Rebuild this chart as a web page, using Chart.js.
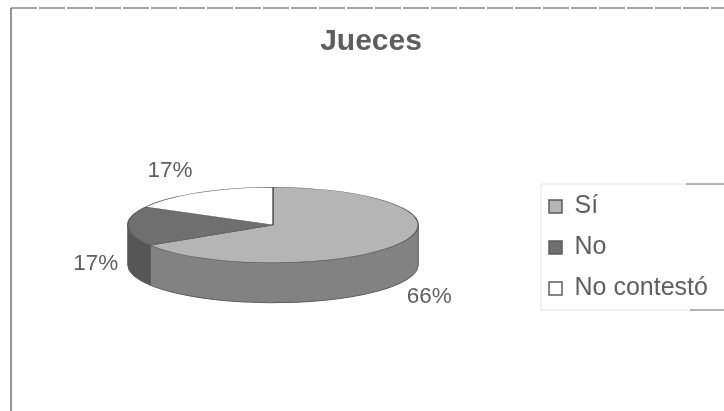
<!DOCTYPE html>
<html>
<head>
<meta charset="utf-8">
<title>Jueces</title>
<style>
  html, body { margin: 0; padding: 0; background: #ffffff; }
  canvas { display: block; }
</style>
<script src="https://cdn.jsdelivr.net/npm/chart.js@4/dist/chart.umd.min.js"></script>
</head>
<body>
<canvas id="chart" width="724" height="411"></canvas>
<script>
const categories = ['Sí', 'No', 'No contestó'];
const shares = [66, 17, 17];
const topColors = ['#b5b5b5', '#6f6f6f', '#ffffff'];
const sideColors = ['#828282', '#565656', '#d0d0d0'];
const chartTitle = 'Jueces';

const TILT = 0.26;      // vertical squash of the disc
const DEPTH = 40;       // height of the rim in pixels
const OUTLINE = '#5c5c5c';
const TEXT = '#5e5e5e';
const labelNudge = [[29, 54], [-32, 38], [-29, -22]];

// Rim of the disc, built from the arc geometry the pie controller computed.
function drawRim(ctx, arcs) {
  arcs.forEach((arc, i) => {
    const from = Math.max(arc.startAngle, 0);
    const to = Math.min(arc.endAngle, Math.PI);
    if (to <= from) return;
    const r = arc.outerRadius;
    ctx.beginPath();
    ctx.ellipse(arc.x, arc.y, r, r * TILT, 0, from, to);
    ctx.ellipse(arc.x, arc.y + DEPTH, r, r * TILT, 0, to, from, true);
    ctx.closePath();
    ctx.fillStyle = sideColors[i];
    ctx.fill();
    ctx.strokeStyle = OUTLINE;
    ctx.lineWidth = 1;
    ctx.stroke();
  });
}

const discPlugin = {
  id: 'disc',
  afterLayout(chart) {
    // Legend and title sit at fixed spots, outside the pie's own area.
    const legend = chart.legend;
    const w = legend.width, h = legend.height;
    legend.left = 533; legend.right = 533 + w;
    legend.top = 178; legend.bottom = 178 + h;
    const title = chart.titleBlock;
    title.left = 0; title.right = 742;
  },
  beforeDatasetDraw(chart) {
    const ctx = chart.ctx;
    const arcs = chart.getDatasetMeta(0).data;
    drawRim(ctx, arcs);
    const cy = arcs[0].y;
    ctx.save();
    ctx.translate(0, cy);
    ctx.scale(1, TILT);
    ctx.translate(0, -cy);
  },
  afterDatasetDraw(chart) {
    chart.ctx.restore();
  },
  afterDraw(chart) {
    const ctx = chart.ctx;
    const arcs = chart.getDatasetMeta(0).data;

    // Percentage labels placed from each slice's mid angle.
    ctx.save();
    ctx.font = '22.5px "Liberation Sans"';
    ctx.fillStyle = TEXT;
    ctx.textAlign = 'center';
    ctx.textBaseline = 'middle';
    arcs.forEach((arc, i) => {
      const mid = (arc.startAngle + arc.endAngle) / 2;
      const x = arc.x + arc.outerRadius * Math.cos(mid);
      const y = arc.y + arc.outerRadius * TILT * Math.sin(mid);
      ctx.fillText(shares[i] + '%', x + labelNudge[i][0], y + labelNudge[i][1]);
    });
    ctx.restore();

    // Page frame: left rule, and a top rule with small breaks.
    ctx.save();
    ctx.strokeStyle = '#4d4d4d';
    ctx.lineWidth = 1.2;
    ctx.beginPath();
    ctx.moveTo(11, 411);
    ctx.lineTo(11, 8);
    ctx.stroke();
    ctx.setLineDash([26, 2]);
    ctx.beginPath();
    ctx.moveTo(11, 8);
    ctx.lineTo(724, 8);
    ctx.stroke();
    ctx.setLineDash([]);

    // Legend frame: faint except for the darker right-hand stubs.
    ctx.strokeStyle = '#e4e4e4';
    ctx.lineWidth = 1;
    ctx.beginPath();
    ctx.moveTo(686, 184);
    ctx.lineTo(541, 184);
    ctx.lineTo(541, 310);
    ctx.lineTo(690, 310);
    ctx.stroke();
    ctx.strokeStyle = '#6a6a6a';
    ctx.beginPath();
    ctx.moveTo(686, 184);
    ctx.lineTo(724, 184);
    ctx.moveTo(690, 310);
    ctx.lineTo(724, 310);
    ctx.stroke();
    ctx.restore();
  }
};

new Chart(document.getElementById('chart'), {
  type: 'pie',
  data: {
    labels: categories,
    datasets: [{
      data: shares,
      backgroundColor: topColors,
      borderColor: OUTLINE,
      borderWidth: 1.5
    }]
  },
  plugins: [discPlugin],
  options: {
    responsive: false,
    animation: false,
    layout: { padding: { left: 127, right: 305, bottom: 40 } },
    events: [],
    plugins: {
      tooltip: { enabled: false },
      title: {
        display: true,
        text: chartTitle,
        color: TEXT,
        font: { family: '"Liberation Sans"', size: 30, weight: 'bold' },
        padding: { top: 24, bottom: 19 }
      },
      legend: {
        position: 'chartArea',
        align: 'start',
        labels: {
          boxWidth: 13,
          boxHeight: 13,
          padding: 16,
          color: TEXT,
          font: { family: '"Liberation Sans"', size: 25 }
        }
      }
    }
  }
});
</script>
</body>
</html>
